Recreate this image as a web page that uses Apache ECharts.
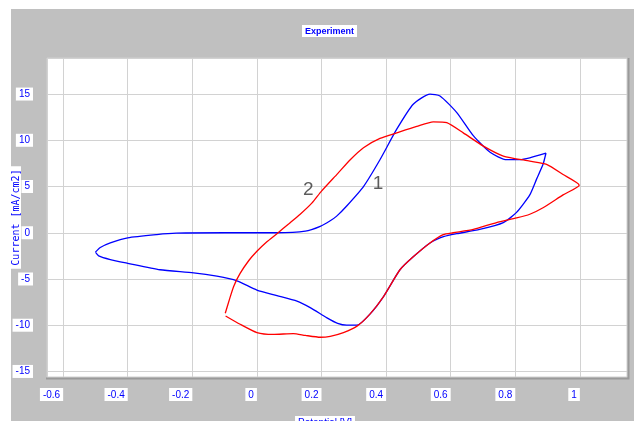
<!DOCTYPE html>
<html>
<head>
<meta charset="utf-8">
<script src="https://cdn.jsdelivr.net/npm/echarts@6/dist/echarts.min.js"></script>
<style>
  html, body { margin: 0; padding: 0; background: #fff; }
  #chart { width: 634px; height: 421px; }
</style>
</head>
<body>
<div id="chart"></div>
<script>
// curve 1 (blue): [potential V, current mA/cm2]
const curve1 = [
  [-0.50, -2.1], [-0.485, -1.6], [-0.454, -1.1], [-0.40, -0.55], [-0.31, -0.2],
  [-0.25, -0.05], [-0.10, 0], [0.06, 0], [0.15, 0.17], [0.196, 0.7],
  [0.227, 1.3], [0.247, 1.8], [0.278, 2.9], [0.33, 5.0], [0.381, 7.9],
  [0.433, 11.2], [0.484, 13.9], [0.536, 15.0], [0.567, 14.8], [0.619, 13.0],
  [0.67, 10.5], [0.722, 8.7], [0.773, 7.9], [0.814, 7.9], [0.845, 8.1],
  [0.895, 8.6], [0.886, 7.4], [0.866, 5.8], [0.845, 4.1], [0.804, 2.2],
  [0.763, 1.1], [0.69, 0.36], [0.619, -0.1], [0.58, -0.4], [0.536, -1.1],
  [0.484, -2.6], [0.443, -4.0], [0.392, -6.9], [0.35, -8.8], [0.31, -10.0],
  [0.278, -10.0], [0.25, -9.8], [0.217, -9.2], [0.165, -8.1], [0.124, -7.4],
  [0.062, -6.8], [0.0, -6.2], [-0.062, -5.2], [-0.124, -4.7], [-0.196, -4.33],
  [-0.30, -4.0], [-0.40, -3.3], [-0.454, -2.9], [-0.49, -2.5], [-0.50, -2.1]
];

// curve 2 (red)
const curve2 = [
  [-0.098, -8.7], [-0.085, -7.2], [-0.072, -5.8], [-0.052, -4.4], [-0.025, -3.0],
  [0.0, -2.0], [0.03, -1.0], [0.062, -0.1], [0.10, 1.0], [0.134, 2.0],
  [0.17, 3.2], [0.20, 4.5], [0.25, 6.4], [0.289, 7.9], [0.33, 9.2],
  [0.381, 10.2], [0.433, 10.8], [0.495, 11.5], [0.546, 12.0], [0.588, 11.9],
  [0.639, 10.8], [0.70, 9.4], [0.763, 8.3], [0.845, 7.75], [0.897, 7.4],
  [0.948, 6.3], [0.998, 5.15], [0.948, 4.1], [0.886, 2.7], [0.845, 2.0],
  [0.804, 1.6], [0.742, 1.1], [0.67, 0.36], [0.608, 0.0], [0.577, -0.2],
  [0.536, -1.1], [0.484, -2.6], [0.443, -4.0], [0.392, -6.9], [0.35, -8.8],
  [0.31, -10.1], [0.268, -10.8], [0.227, -11.2], [0.196, -11.3], [0.15, -11.1],
  [0.113, -10.9], [0.05, -11.0], [0.0, -10.8], [-0.052, -9.9], [-0.097, -9.0]
];

// curve numbers written on the plot
const notes = [[0.375, 5.26, '1'], [0.159, 4.63, '2']];

const xRange = [-0.65, 1.146];
const yRange = [-15.6, 18.9];

const blue = '#0000ff';
const tickLabel = {
  color: blue,
  fontSize: 10,
  fontFamily: 'Liberation Sans',
  backgroundColor: '#fff',
  padding: [2, 3, 1, 3],
  showMinLabel: false,
  showMaxLabel: false
};
const gridLine = { show: true, lineStyle: { color: '#d2d2d2', width: 1 } };

const chart = echarts.init(document.getElementById('chart'));
chart.setOption({
  animation: false,
  backgroundColor: '#fff',
  graphic: [
    { type: 'rect', z: -10, shape: { x: 11, y: 9, width: 623, height: 412 }, style: { fill: '#c0c0c0' } },
    { type: 'polyline', z: 10, silent: true,
      shape: { points: [[46, 378.5], [628.5, 378.5], [628.5, 58]] },
      style: { stroke: '#9a9a9a', lineWidth: 2, fill: null } }
  ],
  title: {
    text: 'Experiment',
    left: 302,
    top: 25,
    padding: [2, 3, 1, 3],
    backgroundColor: '#fff',
    textStyle: { color: blue, fontSize: 9, fontWeight: 'bold', fontFamily: 'Liberation Sans' }
  },
  grid: {
    left: 47, right: 7, top: 58, bottom: 44,
    outerBoundsMode: 'none',
    containLabel: false,
    show: true, backgroundColor: '#fff', borderColor: '#d0d0d0', borderWidth: 1
  },
  xAxis: {
    type: 'value',
    min: xRange[0], max: xRange[1],
    splitNumber: 8,
    name: '{a|Potential [V]}{b|}',
    nameLocation: 'middle',
    nameGap: 39,
    nameMoveOverlap: false,
    nameTextStyle: {
      rich: {
        a: {
          color: blue, fontSize: 10, fontFamily: 'Liberation Sans',
          backgroundColor: '#fff', padding: [2, 3, 1, 3]
        },
        b: { width: 24 }
      }
    },
    axisLine: { show: false },
    axisTick: { show: false },
    axisLabel: Object.assign({}, tickLabel, { margin: 11, align: 'right' }),
    splitLine: gridLine
  },
  yAxis: {
    type: 'value',
    min: yRange[0], max: yRange[1],
    splitNumber: 7,
    name: 'Current [mA/cm2]',
    nameLocation: 'middle',
    nameGap: 26,
    nameMoveOverlap: false,
    nameTextStyle: {
      color: blue, fontSize: 10, fontFamily: 'DejaVu Sans Mono',
      backgroundColor: '#fff', padding: [1, 3, 0, 3]
    },
    axisLine: { show: false },
    axisTick: { show: false },
    axisLabel: Object.assign({}, tickLabel, { margin: 14 }),
    splitLine: gridLine
  },
  series: [
    {
      type: 'line', data: curve1, showSymbol: false, smooth: 0.2,
      lineStyle: { color: blue, width: 1.3 }, z: 3
    },
    {
      type: 'line', data: curve2, showSymbol: false, smooth: 0.2,
      lineStyle: { color: '#ff0000', width: 1.3 }, z: 4
    },
    {
      type: 'scatter', data: notes, symbolSize: 1,
      itemStyle: { color: 'transparent' },
      label: {
        show: true, position: 'inside', formatter: (p) => p.value[2],
        color: '#333', fontSize: 19, fontFamily: 'Liberation Sans'
      },
      z: 5
    }
  ]
});
</script>
</body>
</html>
